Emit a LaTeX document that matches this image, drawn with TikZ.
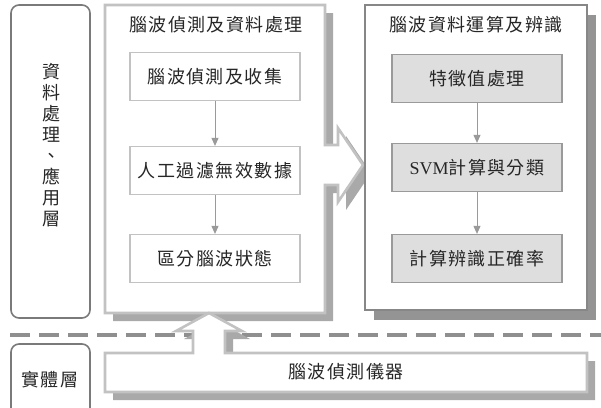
\documentclass[tikz,border=0pt]{standalone}
\usepackage{fontspec}
\setmainfont{Liberation Serif}
\newfontfamily\cjk[LetterSpace=8]{Noto Sans CJK TC}
\usetikzlibrary{arrows.meta}

\definecolor{FrameLight}{HTML}{C2C2C2}
\definecolor{SideLight}{HTML}{A9A9A9}
\definecolor{FrameDark}{HTML}{878787}
\definecolor{SideDark}{HTML}{949494}
\definecolor{StepFill}{HTML}{DEDEDE}
\definecolor{StepLine}{HTML}{9A9A9A}
\definecolor{LayerLine}{HTML}{7A7A7A}
\definecolor{DashGray}{HTML}{8F8F8F}
\definecolor{TextGray}{HTML}{262626}

\tikzstyle{cjk-text}=[font=\cjk\fontsize{18}{21}\selectfont, text=TextGray]
\tikzstyle{layer-box}=[draw=LayerLine, line width=1.6pt, rounded corners=8pt]
\tikzstyle{step-light}=[cjk-text, draw=FrameLight, fill=white, line width=1.2pt, minimum width=170pt, minimum height=48pt, inner sep=0pt]
\tikzstyle{step-dark}=[step-light, draw=StepLine, fill=StepFill]
\tikzstyle{flow}=[draw=StepLine, line width=0.9pt, -{Triangle[length=8pt,width=7pt]}]

\begin{document}
\begin{tikzpicture}[x=1pt, y=-1pt]
      \useasboundingbox (0,0) rectangle (601,407);
      \clip (0,0) rectangle (601,407);

      \draw[DashGray, line width=4pt, dash pattern=on 20pt off 9pt] (10,335) -- (601,335);

      \node (layer-app) at (50.5,161.5) [layer-box, minimum width=79pt, minimum height=313pt] {};
      \node (layer-phy) at (50.5,382) [layer-box, minimum width=79pt, minimum height=76pt] {};
      \node (layer-app-label) at (51,145) [cjk-text, align=center] {資\\料\\處\\理\\、\\應\\用\\層};
      \node (layer-phy-label) at (50,380) [cjk-text] {實體層};

      \fill[SideLight, shift={(8,8)}] (105,5) -- (325,5) -- (325,145) -- (338,145) -- (338,128) -- (363,165) -- (338,202) -- (338,185) -- (325,185) -- (325,313) -- (105,313) -- cycle;
      \draw[FrameLight, fill=white, line width=2.6pt, line join=miter] (105,5) -- (325,5) -- (325,145) -- (338,145) -- (338,128) -- (363,165) -- (338,202) -- (338,185) -- (325,185) -- (325,313) -- (105,313) -- cycle;

      \fill[SideDark, shift={(9,10)}] (365,5) rectangle (587,310);
      \draw[FrameDark, fill=white, line width=2.6pt] (365,5) rectangle (587,310);

      \fill[SideLight, shift={(8,8)}] (105,353) -- (193,353) -- (193,331) -- (176,331) -- (209,313) -- (242,331) -- (225,331) -- (225,353) -- (587,353) -- (587,392) -- (105,392) -- cycle;
      \draw[FrameLight, fill=white, line width=2.6pt, line join=miter] (105,353) -- (193,353) -- (193,331) -- (176,331) -- (209,313) -- (242,331) -- (225,331) -- (225,353) -- (587,353) -- (587,392) -- (105,392) -- cycle;

      \node (title-proc) at (216,25) [cjk-text] {腦波偵測及資料處理};
      \node (title-calc) at (476,25) [cjk-text] {腦波資料運算及辨識};
      \node (device) at (346,372) [cjk-text] {腦波偵測儀器};

      \node (proc-1) at (215,76.5)  [step-light] {腦波偵測及收集};
      \node (proc-2) at (215,170.5) [step-light] {人工過濾無效數據};
      \node (proc-3) at (215,258.5) [step-light] {區分腦波狀態};

      \node (calc-1) at (477,78.5)  [step-dark] {特徵值處理};
      \node (calc-2) at (477,167.5) [step-dark] {{\rmfamily\addfontfeature{LetterSpace=0}SVM}計算與分類};
      \node (calc-3) at (477,258.5) [step-dark] {計算辨識正確率};

      \draw[flow] (proc-1) -- (proc-2);
      \draw[flow] (proc-2) -- (proc-3);
      \draw[flow] (calc-1) -- (calc-2);
      \draw[flow] (calc-2) -- (calc-3);
    \end{tikzpicture}
\end{document}
